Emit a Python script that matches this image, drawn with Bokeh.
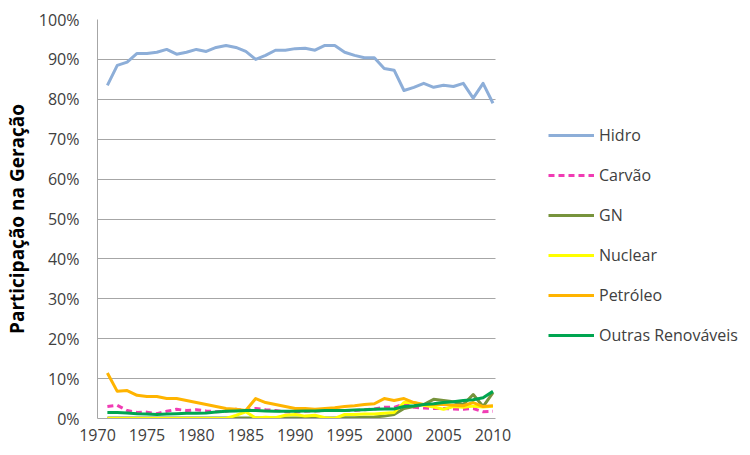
from bokeh.plotting import figure
from bokeh.models import Range1d, FixedTicker, PrintfTickFormatter, Legend, LegendItem
from bokeh.embed import file_html
from bokeh.resources import INLINE

years = list(range(1971, 2011))
hidro = [83.5, 88.5, 89.3, 91.5, 91.5, 91.8, 92.5, 91.3, 91.8, 92.5,
         92.0, 93.0, 93.5, 93.0, 92.0, 90.0, 91.0, 92.3, 92.3, 92.7,
         92.8, 92.3, 93.5, 93.5, 91.8, 91.0, 90.4, 90.4, 87.7, 87.3,
         82.2, 83.0, 84.0, 83.0, 83.5, 83.2, 84.0, 80.3, 84.0, 79.0]
carvao = [3.0, 3.3, 2.0, 1.5, 1.6, 1.2, 1.8, 2.3, 2.0, 2.2,
          1.9, 1.7, 1.8, 2.3, 2.0, 2.5, 2.2, 2.0, 1.7, 1.6,
          1.8, 1.9, 2.0, 2.1, 2.0, 2.0, 2.2, 2.4, 2.8, 2.8,
          3.6, 2.8, 2.6, 2.5, 2.5, 2.4, 2.3, 2.5, 1.7, 1.8]
gn = [0.1, 0.1, 0.1, 0.1, 0.1, 0.1, 0.1, 0.1, 0.1, 0.1,
      0.1, 0.1, 0.1, 0.1, 0.1, 0.1, 0.1, 0.1, 0.1, 0.1,
      0.1, 0.1, 0.1, 0.1, 0.2, 0.2, 0.3, 0.4, 0.6, 1.0,
      2.5, 3.0, 3.5, 4.8, 4.5, 4.2, 3.5, 6.0, 3.0, 6.5]
nuclear = [0.0, 0.0, 0.0, 0.0, 0.0, 0.0, 0.0, 0.0, 0.0, 0.0,
           0.0, 0.0, 0.0, 0.8, 1.7, 0.1, 0.3, 0.2, 0.8, 1.0,
           0.6, 0.8, 0.2, 0.0, 1.0, 1.0, 1.1, 1.1, 1.3, 1.5,
           4.0, 4.0, 3.3, 2.9, 2.3, 3.0, 2.8, 3.1, 2.9, 3.1]
petroleo = [11.4, 6.8, 7.0, 5.8, 5.5, 5.5, 5.0, 5.0, 4.5, 4.0,
            3.5, 3.0, 2.5, 2.3, 2.0, 5.0, 4.0, 3.5, 3.0, 2.5,
            2.5, 2.3, 2.5, 2.7, 3.0, 3.2, 3.5, 3.7, 5.0, 4.5,
            5.0, 4.0, 3.5, 3.5, 3.5, 3.3, 3.2, 4.0, 3.0, 3.2]
outras = [1.5, 1.5, 1.4, 1.2, 1.1, 1.0, 1.1, 1.2, 1.3, 1.3,
          1.4, 1.6, 1.8, 1.9, 2.0, 2.0, 1.9, 1.8, 1.8, 1.8,
          1.9, 1.9, 2.0, 2.0, 2.0, 2.1, 2.2, 2.3, 2.4, 2.4,
          3.0, 3.2, 3.5, 3.7, 4.0, 4.2, 4.5, 4.7, 5.2, 6.8]

series_names = ["Hidro", "Carvão", "GN", "Nuclear", "Petróleo", "Outras Renováveis"]
y_ticks = list(range(0, 101, 10))
x_ticks = list(range(1970, 2011, 5))

FONT = "Open Sans"
X0, X1 = 1970, 2010.3          # data area of the chart
X_END = 2035.24                # frame extends right to hold the legend

p = figure(width=742, height=447, output_backend="svg", toolbar_location=None,
           x_range=Range1d(X0, X_END), y_range=Range1d(0, 100),
           min_border_left=88, min_border_right=0, min_border_top=19,
           min_border_bottom=29)
p.outline_line_color = None
p.background_fill_color = "white"
p.border_fill_color = "white"

p.xgrid.grid_line_color = None
p.ygrid.grid_line_color = "#A6A6A6"
p.ygrid.grid_line_width = 1
p.ygrid.cross_bounds = (X0, X1)

p.yaxis.ticker = FixedTicker(ticks=y_ticks)
p.yaxis.formatter = PrintfTickFormatter(format="%d%%")
p.xaxis.ticker = FixedTicker(ticks=x_ticks)
p.xaxis.bounds = (X0, X1)
p.yaxis.minor_tick_line_color = None
p.xaxis.minor_tick_line_color = None
p.yaxis.major_tick_line_color = None
p.xaxis.major_tick_line_color = None
p.yaxis.major_tick_out = 0
p.xaxis.major_tick_out = 0
p.yaxis.axis_line_color = "#A6A6A6"
p.xaxis.axis_line_color = "#A6A6A6"
p.yaxis.major_label_standoff = 18
p.xaxis.major_label_standoff = 10
for ax in (p.xaxis, p.yaxis):
    ax.major_label_text_font = FONT
    ax.major_label_text_font_size = "16px"
    ax.major_label_text_color = "#404040"

p.yaxis.axis_label = "Participação na Geração"
p.yaxis.axis_label_text_font = FONT
p.yaxis.axis_label_text_font_style = "bold"
p.yaxis.axis_label_text_font_size = "19px"
p.yaxis.axis_label_text_color = "#000000"
p.yaxis.axis_label_standoff = 6

data = [hidro, carvao, gn, nuclear, petroleo, outras]
colors = ["#8DAED8", "#F03CB4", "#77933C", "#FFFF00", "#FFB400", "#00A550"]
dashes = ["solid", "6 4", "solid", "solid", "solid", "solid"]
widths = [3, 3, 3, 3, 3, 3]

items = []
for name, vals, c, d, w in zip(series_names, data, colors, dashes, widths):
    r = p.line(years, vals, line_color=c, line_width=w, line_dash=d, line_join="round")
    items.append(LegendItem(label=name, renderers=[r]))

legend = Legend(items=items, location=(451, 72), orientation="vertical")
legend.glyph_width = 46
legend.glyph_height = 22
legend.spacing = 18
legend.padding = 0
legend.margin = 0
legend.label_standoff = 5
legend.label_text_font = FONT
legend.label_text_font_size = "16px"
legend.label_text_color = "#404040"
legend.background_fill_alpha = 0
legend.border_line_color = None
legend.label_height = 22
p.add_layout(legend, "center")

open("out.html", "w").write(file_html(p, INLINE))
